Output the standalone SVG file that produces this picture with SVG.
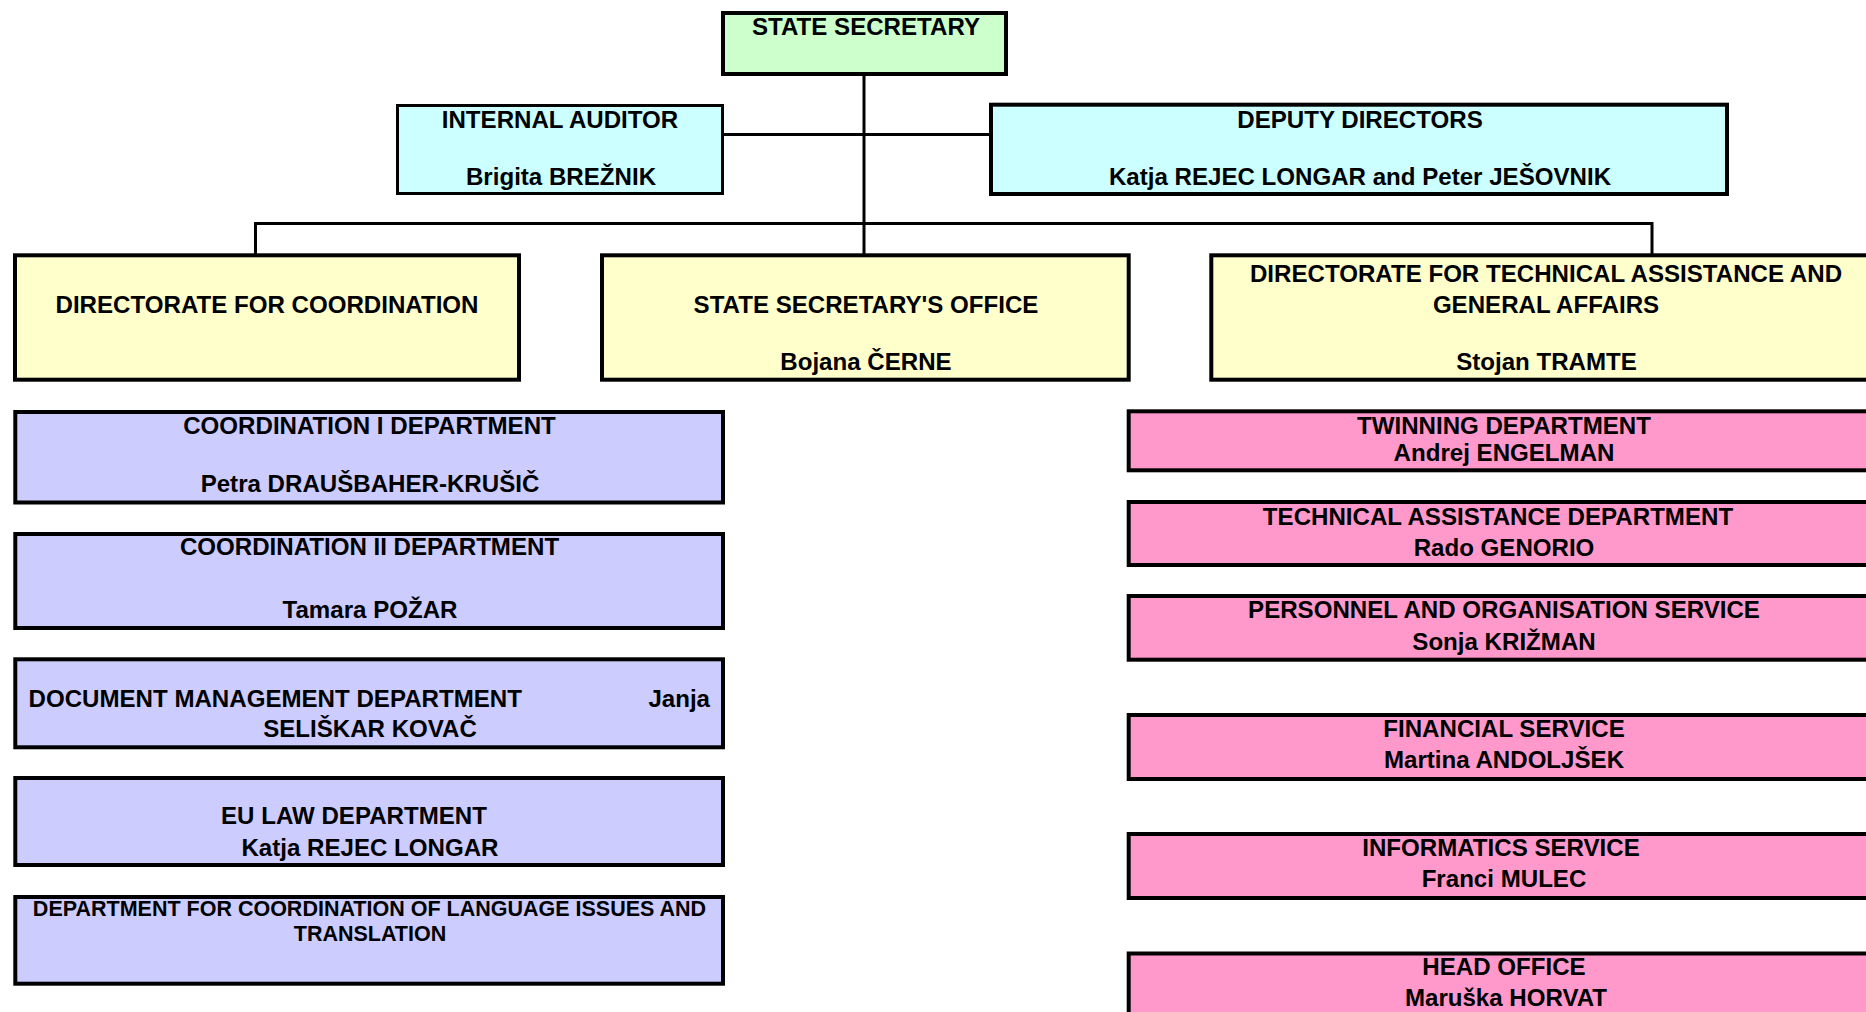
<svg xmlns="http://www.w3.org/2000/svg" width="1866" height="1012" viewBox="0 0 1866 1012">
<style>
  .box { stroke: #000; stroke-width: 4; }
  .thin { stroke-width: 3; }
  .green { fill: #CCFFCC; }
  .cyan { fill: #CCFFFF; }
  .yellow { fill: #FFFFCC; }
  .lav { fill: #CCCCFF; }
  .pink { fill: #FF99CC; }
  text { font-family: "Liberation Sans", Arial, sans-serif; font-weight: bold; font-size: 24.1px; fill: #000; text-anchor: middle; }
  .small { font-size: 21.5px; }
  .start { text-anchor: start; }
  .end { text-anchor: end; }
  .conn { stroke: #000; stroke-width: 3; fill: none; }
</style>
<rect x="0" y="0" width="1866" height="1012" fill="#FFFFFF"/>
<g id="connectors">
  <line class="conn" x1="864" y1="75" x2="864" y2="256"/>
  <line class="conn" x1="723" y1="134.5" x2="991" y2="134.5"/>
  <path class="conn" d="M255.5,256 V223.5 H1652 V256"/>
</g>
<g id="state-secretary">
  <rect class="box green" x="723" y="13" width="283" height="61"/>
  <text x="866" y="34.5">STATE SECRETARY</text>
</g>
<g id="internal-auditor">
  <rect class="box thin cyan" x="397.5" y="105.5" width="325" height="88"/>
  <text x="560" y="127.5">INTERNAL AUDITOR</text>
  <text x="561" y="184.5">Brigita BREŽNIK</text>
</g>
<g id="deputy-directors">
  <rect class="box cyan" x="991" y="104.7" width="736" height="89.3"/>
  <text x="1360" y="127.5">DEPUTY DIRECTORS</text>
  <text x="1360" y="184.5">Katja REJEC LONGAR and Peter JEŠOVNIK</text>
</g>
<g id="directorate-coordination">
  <rect class="box yellow" x="15" y="255.3" width="504" height="124.4"/>
  <text x="267" y="312.5">DIRECTORATE FOR COORDINATION</text>
</g>
<g id="state-secretary-office">
  <rect class="box yellow" x="602" y="255.3" width="526.7" height="124.4"/>
  <text x="866" y="312.5">STATE SECRETARY'S OFFICE</text>
  <text x="866" y="370">Bojana ČERNE</text>
</g>
<g id="directorate-technical">
  <rect class="box yellow" x="1211.3" y="255.3" width="700" height="124.4"/>
  <text x="1546" y="282">DIRECTORATE FOR TECHNICAL ASSISTANCE AND</text>
  <text x="1546" y="312.5">GENERAL AFFAIRS</text>
  <text x="1546.5" y="370">Stojan TRAMTE</text>
</g>
<g id="coordination-1">
  <rect class="box lav" x="15.3" y="412" width="707.7" height="90.5"/>
  <text x="369.5" y="434">COORDINATION I DEPARTMENT</text>
  <text x="370" y="492">Petra DRAUŠBAHER-KRUŠIČ</text>
</g>
<g id="coordination-2">
  <rect class="box lav" x="15.3" y="534" width="707.7" height="94"/>
  <text x="369.5" y="554.5">COORDINATION II DEPARTMENT</text>
  <text x="370" y="618">Tamara POŽAR</text>
</g>
<g id="document-management">
  <rect class="box lav" x="15.3" y="659.3" width="707.7" height="88"/>
  <text class="start" x="28.5" y="707">DOCUMENT MANAGEMENT DEPARTMENT</text>
  <text class="end" x="710" y="707">Janja</text>
  <text x="370" y="737">SELIŠKAR KOVAČ</text>
</g>
<g id="eu-law">
  <rect class="box lav" x="15.3" y="778" width="707.7" height="87"/>
  <text x="354" y="824">EU LAW DEPARTMENT</text>
  <text x="370" y="855.5">Katja REJEC LONGAR</text>
</g>
<g id="language-issues">
  <rect class="box lav" x="15.3" y="897" width="707.7" height="86.7"/>
  <text class="small" x="369.5" y="915.5">DEPARTMENT FOR COORDINATION OF LANGUAGE ISSUES AND</text>
  <text class="small" x="370" y="941">TRANSLATION</text>
</g>
<g id="twinning">
  <rect class="box pink" x="1128.7" y="411.3" width="800" height="59"/>
  <text x="1504" y="434">TWINNING DEPARTMENT</text>
  <text x="1504" y="461">Andrej ENGELMAN</text>
</g>
<g id="technical-assistance">
  <rect class="box pink" x="1128.7" y="502" width="800" height="63"/>
  <text x="1498" y="524.5">TECHNICAL ASSISTANCE DEPARTMENT</text>
  <text x="1504" y="556">Rado GENORIO</text>
</g>
<g id="personnel">
  <rect class="box pink" x="1128.7" y="596" width="800" height="63.7"/>
  <text x="1504" y="618">PERSONNEL AND ORGANISATION SERVICE</text>
  <text x="1504" y="650">Sonja KRIŽMAN</text>
</g>
<g id="financial">
  <rect class="box pink" x="1128.7" y="715" width="800" height="64"/>
  <text x="1504" y="737">FINANCIAL SERVICE</text>
  <text x="1504" y="768">Martina ANDOLJŠEK</text>
</g>
<g id="informatics">
  <rect class="box pink" x="1128.7" y="834" width="800" height="64"/>
  <text x="1501" y="856">INFORMATICS SERVICE</text>
  <text x="1504" y="887">Franci MULEC</text>
</g>
<g id="head-office">
  <rect class="box pink" x="1128.7" y="953.5" width="800" height="100"/>
  <text x="1504" y="975">HEAD OFFICE</text>
  <text x="1506" y="1006">Maruška HORVAT</text>
</g>
</svg>
